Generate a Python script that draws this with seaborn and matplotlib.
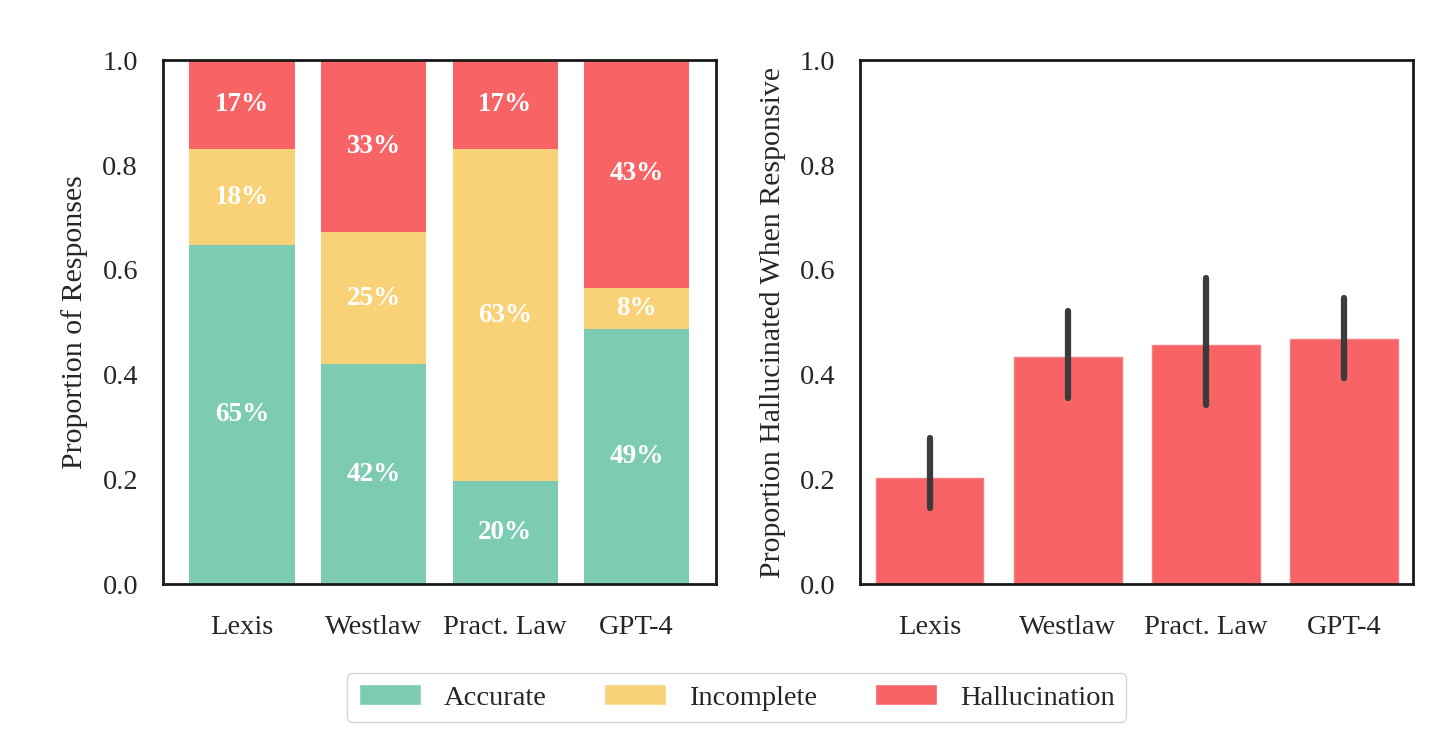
import numpy as np
import pandas as pd
import matplotlib
matplotlib.use("Agg")
import matplotlib.pyplot as plt
from matplotlib.patches import Patch
import seaborn as sns

# --- DATA ---
tools = ["Lexis", "Westlaw", "Pract. Law", "GPT-4"]
accurate = [0.647, 0.42, 0.197, 0.486]
incomplete = [0.183, 0.252, 0.633, 0.08]
hallucination = [0.17, 0.328, 0.17, 0.434]

halluc_rate = [0.203, 0.434, 0.456, 0.467]
halluc_lo = [0.145, 0.355, 0.341, 0.394]
halluc_hi = [0.279, 0.522, 0.584, 0.547]

legend_labels = ["Accurate", "Incomplete", "Hallucination"]
colors = ["#7DCBB3", "#F9D177", "#F86365"]

# --- STYLE ---
sns.set_style("white")
plt.rcParams["font.family"] = ["Liberation Serif", "DejaVu Serif"]
plt.rcParams["axes.edgecolor"] = "#1a1a1a"
plt.rcParams["axes.linewidth"] = 2.0

df = pd.DataFrame({
    "tool": tools,
    "acc": accurate,
    "inc": incomplete,
    "hal": hallucination,
})
df["top_inc"] = df["acc"] + df["inc"]
df["top_hal"] = df["top_inc"] + df["hal"]

fig, (ax1, ax2) = plt.subplots(1, 2, figsize=(14.56, 7.44), dpi=100)
fig.subplots_adjust(left=0.112, right=0.9705, top=0.919, bottom=0.215, wspace=0.262)

# --- LEFT: stacked bars (drawn back to front) ---
for col, c in zip(["top_hal", "top_inc", "acc"], colors[::-1]):
    sns.barplot(data=df, x="tool", y=col, color=c, width=0.8,
                saturation=1, linewidth=0, ax=ax1)

for i, row in df.iterrows():
    segs = [(0, row["acc"]), (row["acc"], row["inc"]), (row["top_inc"], row["hal"])]
    for base, h in segs:
        ax1.text(i, base + h / 2, f"{h:.0%}", ha="center", va="center",
                 color="white", fontsize=19.5, fontweight="bold")

ax1.set_xlim(-0.6, 3.6)
ax1.set_ylim(0, 1)
ax1.set_xlabel("")
ax1.set_ylabel("Proportion of Responses", fontsize=21.5, labelpad=10)

# --- RIGHT: hallucination rate when responsive ---
sns.barplot(x=tools, y=halluc_rate, color=colors[2], width=0.78,
            saturation=1, linewidth=1, edgecolor="#F97C7E", ax=ax2)
ax2.vlines(range(len(tools)), halluc_lo, halluc_hi, color="#3b3b3b",
           linewidth=4.5, capstyle="round")
ax2.set_xlim(-0.5, 3.5)
ax2.set_ylim(0, 1)
ax2.set_ylabel("Proportion Hallucinated When Responsive", fontsize=21.5, labelpad=10)

for ax in (ax1, ax2):
    ax.set_yticks([0, 0.2, 0.4, 0.6, 0.8, 1.0])
    ax.set_yticklabels(["0.0", "0.2", "0.4", "0.6", "0.8", "1.0"])
    ax.tick_params(axis="both", labelsize=20.5, length=0)
    ax.tick_params(axis="x", pad=22)
    ax.tick_params(axis="y", pad=18)
    for s in ax.spines.values():
        s.set_visible(True)

# --- LEGEND ---
handles = [Patch(facecolor=c, label=l) for c, l in zip(colors, legend_labels)]
fig.legend(handles=handles, loc="lower center", ncol=3, bbox_to_anchor=(0.506, 0.0296),
           borderaxespad=0, fontsize=20.5, frameon=True, edgecolor="#cccccc",
           fancybox=True, handlelength=2.18, handleheight=0.77,
           columnspacing=2.04, handletextpad=0.8)

plt.savefig("out.png", dpi=100)
plt.close()
